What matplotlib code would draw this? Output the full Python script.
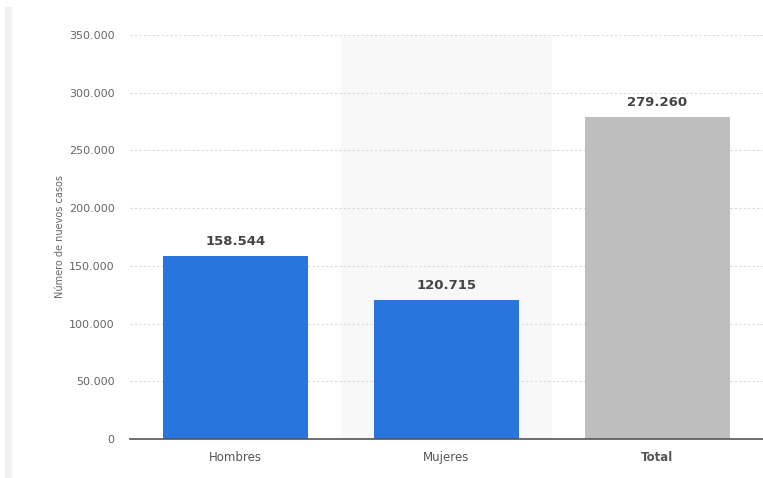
import matplotlib.pyplot as plt
import matplotlib.patches as patches
from matplotlib.ticker import FuncFormatter

categories = ['Hombres', 'Mujeres', 'Total']
values = [158544, 120715, 279260]
colors = ['#2876dd', '#2876dd', '#bebebe']
yticks = [0, 50000, 100000, 150000, 200000, 250000, 300000, 350000]


def fmt(v, pos=None):
    return f'{int(v):,}'.replace(',', '.')


fig = plt.figure(figsize=(7.63, 4.78), dpi=100)
fig.patch.set_facecolor('white')

# thin grey strip at the left edge
fig.add_artist(patches.Rectangle((5 / 763, 0), 7 / 763, 1 - 7 / 478,
                                 transform=fig.transFigure, color='#f0f1f4', lw=0))

ax = fig.add_axes([0.170, 0.0816, 0.830, 0.8452])
x = range(len(categories))

# highlighted band behind the middle category
ax.axvspan(0.5, 1.5, ymax=0.995, color='#f8f8f8', zorder=0, lw=0)

ax.bar(x, values, width=0.686, color=colors, zorder=3)
for xi, v in zip(x, values):
    ax.text(xi, v + 7000, fmt(v), ha='center', va='bottom', fontsize=9.5,
            fontweight='bold', color='#444444')

ax.set_xlim(-0.5, 2.5)
ax.set_ylim(0, 350000)
ax.set_yticks(yticks)
ax.yaxis.set_major_formatter(FuncFormatter(fmt))
ax.set_xticks(list(x))
ax.set_xticklabels(categories)
ax.get_xticklabels()[2].set_fontweight('bold')
ax.get_xticklabels()[2].set_color('#444444')

ax.grid(axis='y', color='#d8d8d8', linestyle=(0, (2, 2)), lw=0.8, zorder=1)
for s in ['top', 'right', 'left']:
    ax.spines[s].set_visible(False)
ax.spines['bottom'].set_color('#555555')
ax.spines['bottom'].set_linewidth(1.2)
ax.spines['bottom'].set_zorder(4)

ax.tick_params(axis='y', length=0, labelsize=8, labelcolor='#666666', pad=11)
ax.tick_params(axis='x', length=0, labelsize=8.5, labelcolor='#555555', pad=9)

ax.set_ylabel('Número de nuevos casos', fontsize=7, color='#666666', labelpad=3)
ax.set_facecolor('none')

fig.savefig('out.png', dpi=100)
